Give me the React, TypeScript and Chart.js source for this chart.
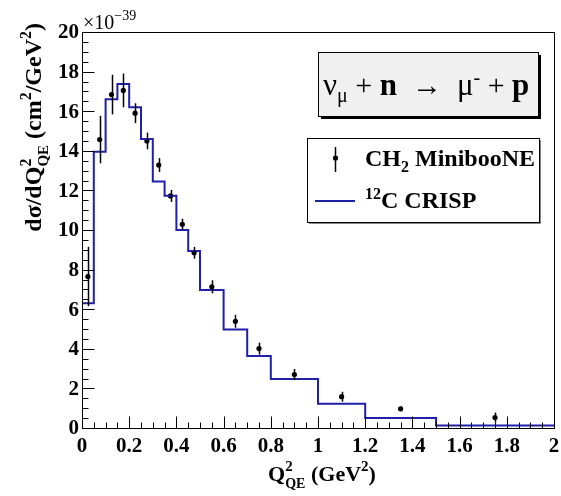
import React, { useEffect, useRef } from 'react';
import { Chart, registerables } from 'chart.js';

Chart.register(...registerables);

// ---- Data ----
const binEdges = [0, 0.05, 0.1, 0.15, 0.2, 0.25, 0.3, 0.35, 0.4, 0.45, 0.5, 0.6, 0.7, 0.8, 1.0, 1.2, 1.5, 2.0];
const crispValues = [6.3, 13.95, 16.6, 17.37, 16.2, 14.6, 12.45, 11.73, 10.0, 8.94, 6.97, 4.98, 3.64, 2.47, 1.22, 0.5, 0.12];

const minibooneX = [0.025, 0.075, 0.125, 0.175, 0.225, 0.275, 0.325, 0.375, 0.425, 0.475, 0.55, 0.65, 0.75, 0.9, 1.1, 1.35, 1.75];
const minibooneY = [7.65, 14.57, 16.84, 17.05, 15.9, 14.5, 13.28, 11.72, 10.29, 8.85, 7.13, 5.39, 4.01, 2.7, 1.58, 0.97, 0.53];
const minibooneErr = [1.5, 1.2, 1.0, 0.85, 0.5, 0.42, 0.35, 0.3, 0.28, 0.3, 0.33, 0.33, 0.3, 0.28, 0.25, 0.12, 0.25];

const xTickValues = [0, 0.2, 0.4, 0.6, 0.8, 1.0, 1.2, 1.4, 1.6, 1.8, 2.0];
const xTickLabels = ['0', '0.2', '0.4', '0.6', '0.8', '1', '1.2', '1.4', '1.6', '1.8', '2'];
const yTickValues = [0, 2, 4, 6, 8, 10, 12, 14, 16, 18, 20];
const yTickLabels = ['0', '2', '4', '6', '8', '10', '12', '14', '16', '18', '20'];
const xMinorStep = 0.05;
const yMinorStep = 0.5;

const SERIF = "'Liberation Serif', 'Times New Roman', Times, serif";
const BLUE = '#1f1fa8';

type Run = { t: string; size: number; bold?: boolean; dy?: number; noAdvance?: boolean };

function runsWidth(ctx: CanvasRenderingContext2D, runs: Run[]) {
  let w = 0;
  for (const r of runs) {
    ctx.font = `${r.bold ? 'bold ' : ''}${r.size}px ${SERIF}`;
    if (!r.noAdvance) w += ctx.measureText(r.t).width;
  }
  return w;
}

function drawRuns(ctx: CanvasRenderingContext2D, runs: Run[], x: number, y: number) {
  let cx = x;
  ctx.textAlign = 'left';
  ctx.textBaseline = 'alphabetic';
  for (const r of runs) {
    ctx.font = `${r.bold ? 'bold ' : ''}${r.size}px ${SERIF}`;
    ctx.fillText(r.t, cx, y + (r.dy || 0));
    if (!r.noAdvance) cx += ctx.measureText(r.t).width;
  }
}

const decorPlugin = {
  id: 'decor',
  afterDatasetsDraw(chart: any) {
    const ctx: CanvasRenderingContext2D = chart.ctx;
    const xs = chart.scales.x;
    const ys = chart.scales.y;
    const area = chart.chartArea;

    // error bars
    ctx.save();
    ctx.strokeStyle = '#000';
    ctx.lineWidth = 1.5;
    for (let i = 0; i < minibooneX.length; i++) {
      const px = Math.round(xs.getPixelForValue(minibooneX[i])) + 0.5;
      const y1 = ys.getPixelForValue(minibooneY[i] - minibooneErr[i]);
      const y2 = ys.getPixelForValue(minibooneY[i] + minibooneErr[i]);
      ctx.beginPath();
      ctx.moveTo(px, y1);
      ctx.lineTo(px, y2);
      ctx.stroke();
    }
    ctx.restore();

    // frame
    ctx.save();
    ctx.strokeStyle = '#000';
    ctx.lineWidth = 1;
    const L = Math.round(area.left) + 0.5;
    const R = Math.round(area.right) + 0.5;
    const T = Math.round(area.top) + 0.5;
    const B = Math.round(area.bottom) + 0.5;
    ctx.strokeRect(L, T, R - L, B - T);

    // x ticks
    ctx.beginPath();
    const xMin = xs.min, xMax = xs.max;
    const nx = Math.round((xMax - xMin) / xMinorStep);
    for (let i = 0; i <= nx; i++) {
      const v = xMin + i * xMinorStep;
      const isMajor = Math.abs(v / 0.2 - Math.round(v / 0.2)) < 1e-6;
      const px = Math.round(xs.getPixelForValue(v)) + 0.5;
      ctx.moveTo(px, B);
      ctx.lineTo(px, B - (isMajor ? 12 : 6));
    }
    const yMin = ys.min, yMax = ys.max;
    const ny = Math.round((yMax - yMin) / yMinorStep);
    for (let i = 0; i <= ny; i++) {
      const v = yMin + i * yMinorStep;
      const isMajor = Math.abs(v / 2 - Math.round(v / 2)) < 1e-6;
      const py = Math.round(ys.getPixelForValue(v)) + 0.5;
      ctx.moveTo(L, py);
      ctx.lineTo(L + (isMajor ? 12 : 6), py);
    }
    ctx.stroke();

    // tick labels
    ctx.fillStyle = '#000';
    ctx.font = `bold 21px ${SERIF}`;
    ctx.textAlign = 'center';
    ctx.textBaseline = 'alphabetic';
    xTickValues.forEach((v, i) => {
      ctx.fillText(xTickLabels[i], xs.getPixelForValue(v), area.bottom + 24);
    });
    ctx.textAlign = 'right';
    ctx.textBaseline = 'middle';
    yTickValues.forEach((v, i) => {
      ctx.fillText(yTickLabels[i], area.left - 3, ys.getPixelForValue(v) + 1);
    });

    // exponent label
    drawRuns(ctx, [
      { t: '\u00d710', size: 20 },
      { t: '\u221239', size: 14, dy: -9 },
    ], area.left + 1, area.top - 3);

    // x title
    const xt: Run[] = [
      { t: 'Q', size: 22, bold: true },
      { t: '2', size: 15, bold: true, dy: -10, noAdvance: true },
      { t: 'QE', size: 14, bold: true, dy: 7 },
      { t: ' (GeV', size: 22, bold: true },
      { t: '2', size: 15, bold: true, dy: -10 },
      { t: ')', size: 22, bold: true },
    ];
    const xw = runsWidth(ctx, xt);
    drawRuns(ctx, xt, (area.left + area.right) / 2 - xw / 2 + 4, 481);

    // y title
    const yt: Run[] = [
      { t: 'd\u03c3/dQ', size: 24, bold: true },
      { t: '2', size: 16, bold: true, dy: -10, noAdvance: true },
      { t: 'QE', size: 15, bold: true, dy: 7 },
      { t: ' (cm', size: 24, bold: true },
      { t: '2', size: 16, bold: true, dy: -10 },
      { t: '/GeV', size: 24, bold: true },
      { t: '2', size: 16, bold: true, dy: -10 },
      { t: ')', size: 24, bold: true },
    ];
    const yw = runsWidth(ctx, yt);
    ctx.save();
    ctx.translate(41, 23 + yw);
    ctx.rotate(-Math.PI / 2);
    drawRuns(ctx, yt, 0, 0);
    ctx.restore();

    // reaction box
    ctx.fillStyle = '#000';
    ctx.fillRect(321, 55, 220, 64);
    ctx.fillStyle = '#f0f0f0';
    ctx.fillRect(318, 52, 220, 64);
    ctx.strokeStyle = '#000';
    ctx.lineWidth = 1;
    ctx.strokeRect(318.5, 52.5, 220, 64);
    ctx.fillStyle = '#000';
    drawRuns(ctx, [
      { t: '\u03bd', size: 31 },
      { t: '\u03bc', size: 20, dy: 7 },
      { t: ' + ', size: 30 },
      { t: 'n', size: 31, bold: true },
      { t: '  \u2192  ', size: 30 },
      { t: '\u03bc', size: 31 },
      { t: '-', size: 20, dy: -11 },
      { t: ' + ', size: 30 },
      { t: 'p', size: 31, bold: true },
    ], 323, 95);

    // legend box
    ctx.fillStyle = '#888';
    ctx.fillRect(309, 140, 232, 84);
    ctx.fillStyle = '#fff';
    ctx.fillRect(307, 138, 232, 84);
    ctx.strokeStyle = '#000';
    ctx.strokeRect(307.5, 138.5, 232, 84);

    // entry 1 marker
    ctx.strokeStyle = '#000';
    ctx.lineWidth = 1.5;
    ctx.beginPath();
    ctx.moveTo(335.5, 147);
    ctx.lineTo(335.5, 172);
    ctx.stroke();
    ctx.fillStyle = '#000';
    ctx.beginPath();
    ctx.arc(335.5, 158, 2.6, 0, Math.PI * 2);
    ctx.fill();
    drawRuns(ctx, [
      { t: 'CH', size: 24, bold: true },
      { t: '2', size: 16, bold: true, dy: 6 },
      { t: ' MinibooNE', size: 24, bold: true },
    ], 365, 166);

    // entry 2 marker
    ctx.strokeStyle = BLUE;
    ctx.lineWidth = 2;
    ctx.beginPath();
    ctx.moveTo(315, 201);
    ctx.lineTo(355, 201);
    ctx.stroke();
    drawRuns(ctx, [
      { t: '12', size: 16, bold: true, dy: -9 },
      { t: 'C CRISP', size: 24, bold: true },
    ], 365, 208);

    ctx.restore();
  },
};

export default function App() {
  const ref = useRef<HTMLCanvasElement | null>(null);

  useEffect(() => {
    if (!ref.current) return;
    const histPoints = binEdges.map((e, i) => ({
      x: e,
      y: crispValues[Math.min(i, crispValues.length - 1)],
    }));
    const dataPoints = minibooneX.map((x, i) => ({ x, y: minibooneY[i] }));

    const chart = new Chart(ref.current, {
      type: 'line',
      data: {
        datasets: [
          {
            label: '12C CRISP',
            data: histPoints,
            stepped: 'before',
            borderColor: BLUE,
            borderWidth: 2,
            pointRadius: 0,
            fill: false,
          } as any,
          {
            type: 'scatter',
            label: 'CH2 MinibooNE',
            data: dataPoints,
            showLine: false,
            pointRadius: 2.6,
            pointBackgroundColor: '#000',
            pointBorderColor: '#000',
            pointBorderWidth: 0,
          } as any,
        ],
      },
      options: {
        responsive: false,
        animation: false,
        devicePixelRatio: 1,
        layout: { padding: { left: 82, right: 7, top: 32, bottom: 68 } },
        plugins: {
          legend: { display: false },
          tooltip: { enabled: false },
        },
        scales: {
          x: { type: 'linear', min: 0, max: 2, display: false },
          y: { type: 'linear', min: 0, max: 20, display: false },
        },
      },
      plugins: [decorPlugin],
    });
    return () => chart.destroy();
  }, []);

  return (
    <div style={{ position: 'absolute', left: 0, top: 0, width: 561, height: 496, background: '#fff' }}>
      <canvas ref={ref} width={561} height={496} />
    </div>
  );
}
